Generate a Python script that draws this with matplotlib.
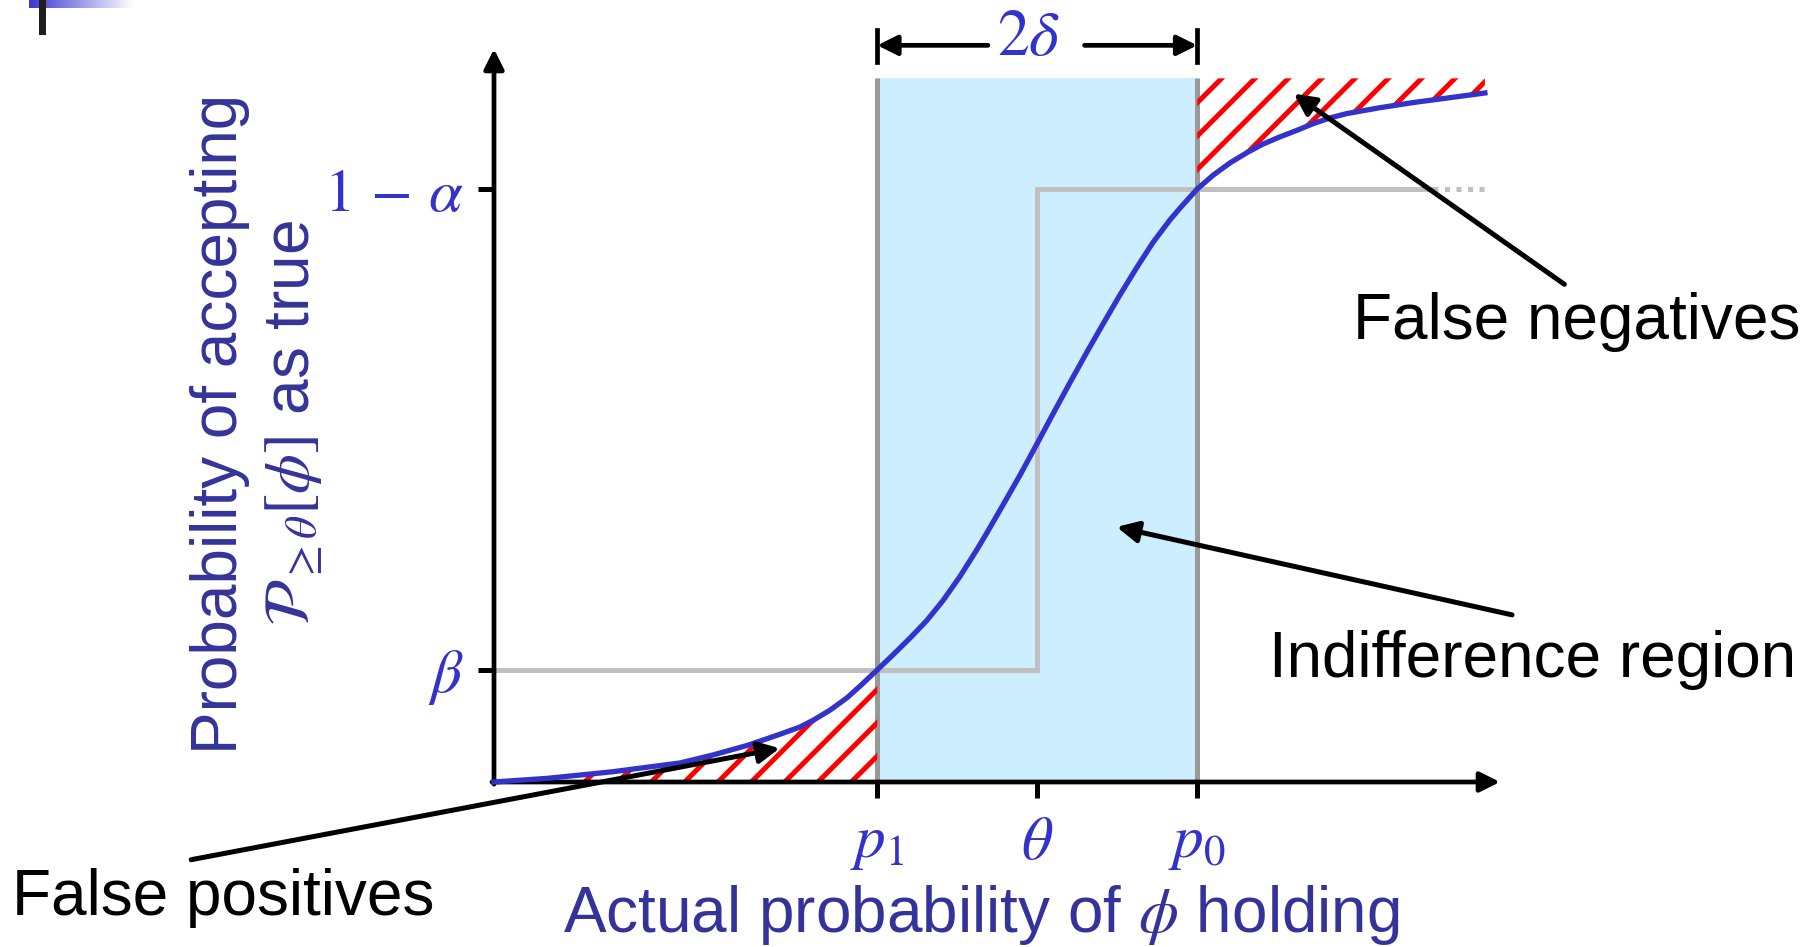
import numpy as np
import matplotlib
matplotlib.use('Agg')
import matplotlib.pyplot as plt
from matplotlib.patches import Rectangle
from matplotlib.colors import LinearSegmentedColormap

plt.rcParams['font.family'] = ['Liberation Sans', 'DejaVu Sans']
plt.rcParams['mathtext.fontset'] = 'stix'
plt.rcParams['hatch.linewidth'] = 1.8
plt.rcParams['hatch.color'] = 'red'

# positions along the axes (fraction of axis length)
p1 = 0.381
theta = 0.540
p0 = 0.699
beta = 0.153
one_minus_alpha = 0.809
region_top = 0.96

# acceptance probability curve
curve_x = [0.0, 0.053, 0.118, 0.185, 0.218, 0.252, 0.284, 0.304, 0.317,
           0.334, 0.351, 0.364, 0.381, 0.397, 0.414, 0.430, 0.446, 0.463,
           0.480, 0.490, 0.506, 0.523, 0.540, 0.556, 0.573, 0.590, 0.605,
           0.622, 0.639, 0.655, 0.672, 0.682, 0.699, 0.715, 0.732, 0.749,
           0.764, 0.781, 0.798, 0.814, 0.831, 0.848, 0.881, 0.914, 0.947,
           0.985]
curve_y = [0.0, 0.005, 0.014, 0.026, 0.037, 0.050, 0.065, 0.075, 0.084,
           0.098, 0.115, 0.131, 0.153, 0.174, 0.197, 0.220, 0.247, 0.280,
           0.317, 0.340, 0.378, 0.419, 0.462, 0.503, 0.546, 0.588, 0.624,
           0.664, 0.702, 0.736, 0.767, 0.783, 0.809, 0.828, 0.845, 0.859,
           0.870, 0.880, 0.889, 0.898, 0.906, 0.912, 0.920, 0.927, 0.933,
           0.940]

x_ticks = [p1, theta, p0]
x_tick_labels = [r'$p_1$', r'$\theta$', r'$p_0$']
y_ticks = [beta, one_minus_alpha]
y_tick_labels = [r'$\beta$', r'$1\,-\,\alpha$']

text_col = '#333399'
math_col = '#3333cc'

fig = plt.figure(figsize=(18.17 / 2, 9.47 / 2), dpi=200)
ax = fig.add_axes([494 / 1817, 1 - 782 / 947, 1006 / 1817, 733 / 947])
ax.set_xlim(0, 1)
ax.set_ylim(0, 1)
for s in ax.spines.values():
    s.set_visible(False)

cx = np.array(curve_x)
cy = np.array(curve_y)

# indifference region
ax.add_patch(Rectangle((p1, 0), p0 - p1, region_top, facecolor='#cceeff',
                       edgecolor='none', zorder=1))
ax.plot([p1, p1], [0, region_top], color='#999999', lw=1.8, zorder=3,
        solid_capstyle='butt')
ax.plot([p0, p0], [0, region_top], color='#999999', lw=1.8, zorder=3,
        solid_capstyle='butt')

# ideal step response
ax.plot([0, theta, theta, 0.933], [beta, beta, one_minus_alpha, one_minus_alpha],
        color='#c0c0c0', lw=1.8, zorder=2, solid_joinstyle='miter')
ax.plot([0.933, 0.985], [one_minus_alpha, one_minus_alpha], color='#c0c0c0',
        lw=1.8, ls=(0, (1, 1.3)), zorder=2)

# error regions
m1 = cx <= p1 + 1e-9
ax.fill_between(cx[m1], 0, cy[m1], facecolor='none', edgecolor='red',
                hatch='//', linewidth=0, zorder=4)
m2 = cx >= p0 - 1e-9
ax.fill_between(cx[m2], cy[m2], region_top, facecolor='none', edgecolor='red',
                hatch='//', linewidth=0, zorder=4)

ax.plot(cx, cy, color=math_col, lw=1.9, zorder=6, clip_on=False,
        solid_joinstyle='round')

# axes with arrow heads
arr = dict(arrowstyle='-|>', color='k', lw=1.7, mutation_scale=15,
           shrinkA=0, shrinkB=0)
ax.annotate('', xy=(1.0, 0), xytext=(-0.002, 0), xycoords='axes fraction',
            arrowprops=arr, zorder=5)
ax.annotate('', xy=(0, 1.0), xytext=(0, -0.003), xycoords='axes fraction',
            arrowprops=arr, zorder=5)

ax.set_xticks(x_ticks, x_tick_labels)
ax.set_yticks(y_ticks, y_tick_labels)
ax.tick_params(axis='both', direction='out', length=5.8, width=1.8,
               color='k', labelcolor=math_col, labelsize=22)
ax.tick_params(axis='x', pad=6)
ax.tick_params(axis='y', pad=5)

# 2 delta marker
d_y = 1.005
ax.annotate('', xy=(p1, d_y), xytext=(0.491, d_y), arrowprops=arr,
            annotation_clip=False)
ax.annotate('', xy=(p0, d_y), xytext=(0.587, d_y), arrowprops=arr,
            annotation_clip=False)
ax.plot([p1, p1], [0.982, 1.026], color='k', lw=1.7, clip_on=False)
ax.plot([p0, p0], [0.982, 1.026], color='k', lw=1.7, clip_on=False)
ax.text(0.531, 0.992, r'$2\delta$', color=math_col, fontsize=23,
        ha='center', va='baseline')

# annotations
arr2 = dict(arrowstyle='-|>', color='k', lw=1.8, mutation_scale=16,
            shrinkA=0, shrinkB=0)
ax.annotate('', xy=(0.795, 0.939), xytext=(1.064, 0.679), arrowprops=arr2,
            annotation_clip=False, zorder=7)
ax.text(0.854, 0.628, 'False negatives', fontsize=23, ha='left', va='center')
ax.annotate('', xy=(0.619, 0.348), xytext=(1.012, 0.228), arrowprops=arr2,
            annotation_clip=False, zorder=7)
ax.text(0.770, 0.166, 'Indifference region', fontsize=23, ha='left',
        va='center')
ax.annotate('', xy=(0.284, 0.046), xytext=(-0.301, -0.106), arrowprops=arr2,
            annotation_clip=False, zorder=7)
ax.text(-0.479, -0.158, 'False positives', fontsize=23, ha='left',
        va='center')

# axis titles
ax.text(0.484, -0.181, r'Actual probability of $\phi$ holding', fontsize=23,
        color=text_col, ha='center', va='center')
ax.text(-0.272, 0.488, 'Probability of accepting', fontsize=23,
        color=text_col, rotation=90, ha='center', va='center')
ax.text(-0.199, 0.490, r'$\mathcal{P}_{\geq\theta}[\phi]$ as true',
        fontsize=23, color=text_col, rotation=90, ha='center', va='center')

# slide decoration, top left
gax = fig.add_axes([29 / 1817, 1 - 8 / 947, 104 / 1817, 8 / 947])
cmap = LinearSegmentedColormap.from_list('g', ['#3a3ad0', '#ffffff'])
gax.imshow(np.linspace(0, 1, 200)[None, :], aspect='auto', cmap=cmap)
gax.axis('off')
fig.patches.append(Rectangle((39 / 1817, 1 - 35 / 947), 7 / 1817, 35 / 947,
                             transform=fig.transFigure, facecolor='#1e1e1e',
                             edgecolor='none', zorder=10))

fig.savefig('out.png', dpi=200)
